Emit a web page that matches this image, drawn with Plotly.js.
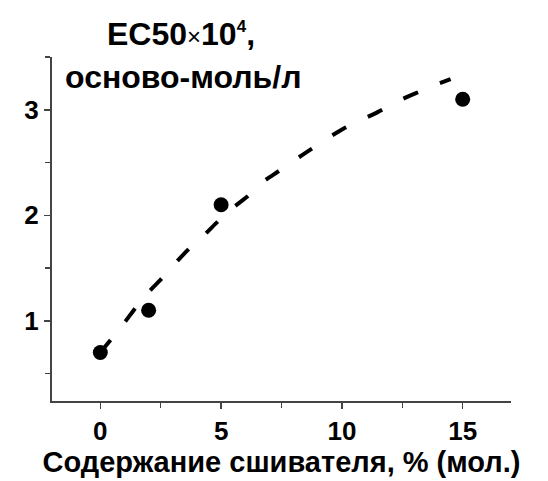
<!DOCTYPE html>
<html>
<head>
<meta charset="utf-8">
<script src="https://cdn.plot.ly/plotly-3.0.1.min.js"></script>
<style>html,body{margin:0;padding:0;background:#fff;}#chart{width:548px;height:481px;}</style>
</head>
<body>
<div id="chart"></div>
<script>
// Measured points
const crosslinker = [0, 2, 5, 15];
const ec50 = [0.7, 1.1, 2.1, 3.1];
// Dashed fit curve
const fitX = [0, 0.43, 1.02, 1.45, 2.03, 2.54, 3.12, 3.66, 4.33, 4.86, 5.54, 6.1, 6.75, 7.33, 8.09, 8.68, 9.48, 10.06, 10.96, 11.5, 12.4, 12.99, 13.93, 14.5];
const fitY = [0.70, 0.82, 0.99, 1.12, 1.28, 1.40, 1.55, 1.68, 1.82, 1.94, 2.08, 2.18, 2.32, 2.41, 2.53, 2.62, 2.74, 2.82, 2.92, 2.98, 3.09, 3.15, 3.24, 3.29];
const xTicks = [0, 5, 10, 15];
const yTicks = [1, 2, 3];
const xTitle = 'Содержание сшивателя, % (мол.)';
const yTitleLine1 = 'EC50<span style="font-weight:normal;font-size:24px">×</span>10<sup><span style="font-size:17px">4</span></sup>,';
const yTitleLine2 = 'осново-моль/л';

const FONT = 'Liberation Sans, Arial, sans-serif';

const traces = [
  {
    x: fitX, y: fitY, type: 'scatter', mode: 'lines',
    line: {color: '#000', width: 4, dash: '16px,24px', shape: 'spline', smoothing: 0.6},
    hoverinfo: 'skip', showlegend: false
  },
  {
    x: crosslinker, y: ec50, type: 'scatter', mode: 'markers',
    marker: {color: '#000', size: 15, symbol: 'circle'},
    showlegend: false
  }
];

const layout = {
  width: 548, height: 481,
  margin: {l: 51.5, r: 37, t: 57, b: 80},
  paper_bgcolor: '#fff', plot_bgcolor: '#fff',
  font: {family: FONT, color: '#000'},
  showlegend: false,
  xaxis: {
    range: [-2, 17],
    tickvals: xTicks, ticktext: xTicks.map(String),
    showgrid: false, zeroline: false,
    showline: true, linecolor: '#444', linewidth: 2,
    ticks: 'outside', ticklen: 6, tickwidth: 1.5, tickcolor: '#444',
    minor: {dtick: 2.5, tick0: 0, ticks: 'outside', ticklen: 5, tickwidth: 1.5, tickcolor: '#444', showgrid: false},
    tickfont: {family: FONT, size: 26, weight: 'bold', color: '#000'},
    title: {text: xTitle, font: {family: FONT, size: 29, weight: 'bold', color: '#000'}, standoff: 6},
    automargin: false
  },
  yaxis: {
    range: [0.24, 3.5],
    tickvals: yTicks, ticktext: yTicks.map(String),
    showgrid: false, zeroline: false,
    showline: true, linecolor: '#444', linewidth: 2,
    ticks: 'outside', ticklen: 6, tickwidth: 1.5, tickcolor: '#444',
    minor: {dtick: 0.5, tick0: 0, ticks: 'outside', ticklen: 5, tickwidth: 1.5, tickcolor: '#444', showgrid: false},
    tickfont: {family: FONT, size: 26, weight: 'bold', color: '#000'},
    automargin: false
  },
  annotations: [
    {
      text: yTitleLine1, xref: 'paper', yref: 'paper', x: 0.282, y: 1.068,
      xanchor: 'center', yanchor: 'middle', showarrow: false,
      font: {family: FONT, size: 32, weight: 'bold', color: '#000'}
    },
    {
      text: yTitleLine2, xref: 'paper', yref: 'paper', x: 0.286, y: 0.942,
      xanchor: 'center', yanchor: 'middle', showarrow: false,
      font: {family: FONT, size: 32, weight: 'bold', color: '#000'}
    }
  ]
};

Plotly.newPlot('chart', traces, layout, {displayModeBar: false, staticPlot: true});
</script>
</body>
</html>
